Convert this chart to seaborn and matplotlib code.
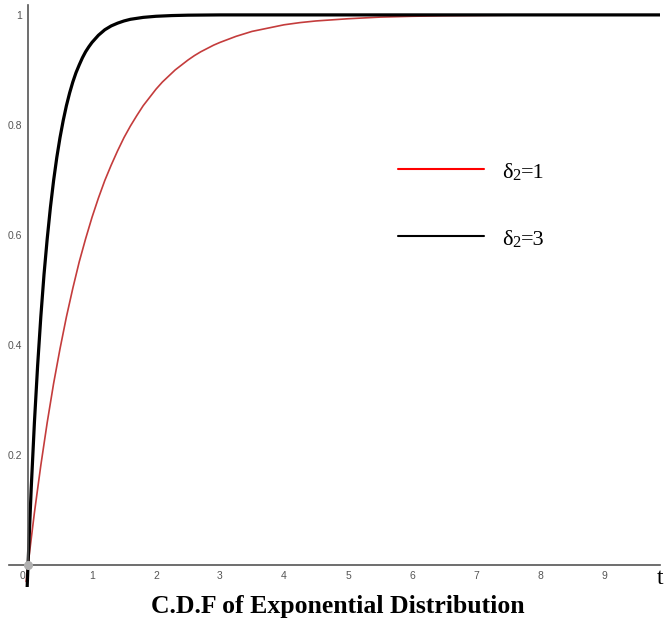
import numpy as np
import pandas as pd
import seaborn as sns
import matplotlib.pyplot as plt
import matplotlib.transforms as mtransforms

# values
t_red = [-0.03, 0, 0.1, 0.2, 0.3, 0.4, 0.5, 0.6, 0.7, 0.8, 0.9, 1.0, 1.1, 1.2, 1.3, 1.4, 1.5,
         1.6, 1.7, 1.8, 1.9, 2.0, 2.1, 2.2, 2.3, 2.4, 2.5, 2.6, 2.7, 2.8, 2.9, 3.0, 3.25,
         3.5, 3.75, 4.0, 4.25, 4.5, 4.75, 5.0, 5.5, 6.0, 6.5, 7.0, 8.0, 9.9]
y_red = [-0.03, 0, 0.095, 0.181, 0.259, 0.33, 0.393, 0.451, 0.503, 0.551, 0.593, 0.632,
         0.667, 0.699, 0.727, 0.753, 0.777, 0.798, 0.817, 0.835, 0.850, 0.865, 0.878, 0.889,
         0.900, 0.909, 0.918, 0.926, 0.933, 0.939, 0.945, 0.950, 0.961, 0.970, 0.976, 0.982,
         0.986, 0.989, 0.991, 0.993, 0.996, 0.9975, 0.9985, 0.999, 1.0, 1.0]

t_black = [-0.015, 0, 0.05, 0.1, 0.15, 0.2, 0.25, 0.3, 0.35, 0.4, 0.45, 0.5, 0.55, 0.6, 0.65,
           0.7, 0.75, 0.8, 0.85, 0.9, 0.95, 1.0, 1.1, 1.2, 1.3, 1.4, 1.5, 1.6, 1.8, 2.0,
           2.25, 2.5, 3.0, 9.9]
y_black = [-0.046, 0, 0.139, 0.259, 0.362, 0.451, 0.528, 0.593, 0.650, 0.699, 0.741, 0.777,
           0.808, 0.835, 0.858, 0.878, 0.895, 0.909, 0.922, 0.933, 0.942, 0.950, 0.963, 0.973,
           0.980, 0.985, 0.989, 0.992, 0.9955, 0.9975, 0.9988, 0.9995, 1.0, 1.0]

rates = ['1', '3']
colors = ['#c43c3c', 'black']

df = pd.concat([
    pd.DataFrame({'t': t_red, 'F': y_red, 'rate': rates[0]}),
    pd.DataFrame({'t': t_black, 'F': y_black, 'rate': rates[1]}),
])

sns.set_style('white')
plt.rcParams['font.family'] = ['Liberation Sans Narrow', 'Liberation Sans', 'DejaVu Sans']

fig = plt.figure(figsize=(6.69, 6.28), dpi=100)
ax = fig.add_axes([9 / 669, 1 - 587 / 628, 651 / 669, 582 / 628])

sns.lineplot(data=df, x='t', y='F', hue='rate', palette=colors, sort=False,
             legend=False, ax=ax)
ax.lines[0].set_linewidth(1.2)
ax.lines[1].set_linewidth(2.3)
for ln in ax.lines:
    ln.set_solid_joinstyle('round')
ax.scatter([0], [0], s=30, color='#b0b0b0', zorder=5)

ax.set_xlim(-0.297, 9.875)
ax.set_ylim(-0.04, 1.018)
for s in ['top', 'right']:
    ax.spines[s].set_visible(False)
ax.spines['left'].set_position(('data', 0))
ax.spines['bottom'].set_position(('data', 0))
ax.spines['left'].set_bounds(0, 1.018)
for s in ['left', 'bottom']:
    ax.spines[s].set_color('#555555')
    ax.spines[s].set_linewidth(1.2)

ax.set_xticks(range(0, 10))
ax.set_yticks([0.2, 0.4, 0.6, 0.8, 1])
ax.set_yticklabels(['0.2', '0.4', '0.6', '0.8', '1'])
ax.tick_params(direction='inout', length=6, width=1, color='#555555',
               labelsize=7.5, labelcolor='#555555', pad=1)
lab0 = ax.get_xticklabels()[0]
lab0.set_horizontalalignment('right')
lab0.set_transform(lab0.get_transform() +
                   mtransforms.ScaledTranslation(-3 / 100, 0, fig.dpi_scale_trans))
ax.set_xlabel('')
ax.set_ylabel('')

# legend drawn as lines + text
serif = ['Liberation Serif', 'DejaVu Serif']
lx0, lx1 = 398, 484
for i, ypx in enumerate([169, 236]):
    yf = 1 - ypx / 628
    fig.add_artist(plt.Line2D([lx0 / 669, lx1 / 669], [yf, yf],
                              color='red' if i == 0 else 'black', lw=1.5))
    base = 1 - (ypx + 9) / 628
    fig.text(502 / 669, base, 'δ', fontsize=16, family=serif, color='black',
             va='baseline', ha='left')
    fig.text(512 / 669, base - 2 / 628, '2', fontsize=12, family=serif, color='black',
             va='baseline', ha='left')
    fig.text(521 / 669, base, '=' + rates[i], fontsize=16, family=serif, color='black',
             va='baseline', ha='left')

fig.text(657 / 669, 1 - 578 / 628, 't', fontsize=17, family='Liberation Serif',
         color='black', va='center', ha='left')
fig.text(338 / 669, 1 - 607 / 628, 'C.D.F of Exponential Distribution', fontsize=18.5,
         family='Liberation Serif', weight='bold', color='black', ha='center', va='center')

fig.savefig('out.png', dpi=100)
